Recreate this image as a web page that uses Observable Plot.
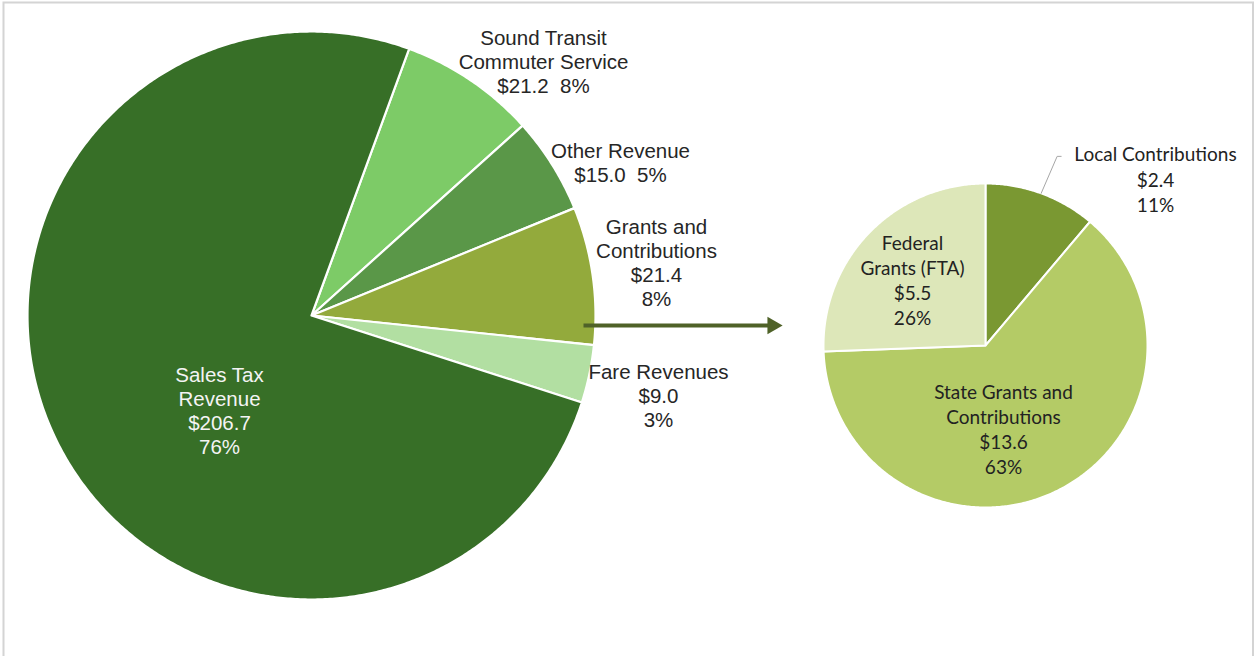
<!DOCTYPE html>
<html><head><meta charset="utf-8">
<script src="https://cdn.jsdelivr.net/npm/d3@7"></script>
<script src="https://cdn.jsdelivr.net/npm/@observablehq/plot@0.6"></script>
<style>body{margin:0;background:#fff;} svg{display:block;}</style>
</head><body><div id="chart"></div>
<script>
// ---------- data ----------
const mainCategories = ["Sound Transit\nCommuter Service", "Other Revenue", "Grants and\nContributions", "Fare Revenues", "Sales Tax\nRevenue"];
const mainValues = [21.2, 15.0, 21.4, 9.0, 206.7];
const mainColors = ["#7dcb67", "#5a9748", "#93aa3c", "#b2dfa2", "#376f27"];
const subCategories = ["Local Contributions", "State Grants and\nContributions", "Federal\nGrants (FTA)"];
const subValues = [2.4, 13.6, 5.5];
const subColors = ["#7a9832", "#b4cb66", "#dde7b9"];

// ---------- layout ----------
const W = 1254, H = 656;
const mainPie = {cx: 311, cy: 315, r: 284, start: 20.1};
const subPie = {cx: 985, cy: 345, r: 162, start: 0};
const mainLabelLayout = [
  {x: 543, y: 61, inline: true, fill: "#262626"},
  {x: 620, y: 162, inline: true, fill: "#262626"},
  {x: 656, y: 262, inline: false, fill: "#262626"},
  {x: 658, y: 395, inline: false, fill: "#262626"},
  {x: 219, y: 410, inline: false, fill: "#f4f4f4"}
];
const subLabelLayout = [
  {x: 1155, y: 178},
  {x: 1003, y: 428},
  {x: 912, y: 279}
];

function slicePolys(vals, colors, pie, group) {
  const s = pie.start * Math.PI / 180;
  const arcs = d3.pie().sort(null).value(d => d).startAngle(s).endAngle(s + 2 * Math.PI)(vals);
  const pts = [];
  arcs.forEach((a, i) => {
    const key = group + i;
    const n = Math.max(2, Math.ceil((a.endAngle - a.startAngle) / (Math.PI / 360)));
    pts.push({k: key, x: pie.cx, y: pie.cy, color: colors[i]});
    for (let j = 0; j <= n; j++) {
      const t = a.startAngle + (a.endAngle - a.startAngle) * j / n;
      pts.push({k: key, x: pie.cx + pie.r * Math.sin(t), y: pie.cy - pie.r * Math.cos(t), color: colors[i]});
    }
    pts.push({k: key, x: pie.cx, y: pie.cy, color: colors[i]});
  });
  return {pts, arcs};
}

const main = slicePolys(mainValues, mainColors, mainPie, "m");
const sub = slicePolys(subValues, subColors, subPie, "s");
const pct = d3.format(".0%");
const mainTotal = d3.sum(mainValues), subTotal = d3.sum(subValues);

const mainLabels = mainCategories.map((c, i) => ({
  x: mainLabelLayout[i].x, y: mainLabelLayout[i].y, fill: mainLabelLayout[i].fill,
  text: c + "\n$" + mainValues[i].toFixed(1) + (mainLabelLayout[i].inline ? "\u00a0\u00a0" : "\n") + pct(mainValues[i] / mainTotal)
}));
const subLabels = subCategories.map((c, i) => ({
  x: subLabelLayout[i].x, y: subLabelLayout[i].y,
  text: c + "\n$" + subValues[i].toFixed(1) + "\n" + pct(subValues[i] / subTotal)
}));

// leader line for the small "Local Contributions" slice
const la = sub.arcs[0];
const lm = (la.startAngle + la.endAngle) / 2;
const lx = subPie.cx + subPie.r * Math.sin(lm), ly = subPie.cy - subPie.r * Math.cos(lm);
const leader = [{x: lx, y: ly}, {x: lx + 16, y: ly - 37}, {x: lx + 20, y: ly - 37}];

// connector arrow between pies
const arrowY = 325;
const arrowX1 = mainPie.cx + mainPie.r - 12;
const arrowTip = subPie.cx - subPie.r - 41;

const chart = Plot.plot({
  width: W, height: H, margin: 0,
  x: {domain: [0, W], range: [0, W], axis: null},
  y: {domain: [0, H], range: [0, H], axis: null},
  color: {type: "identity"},
  style: {background: "#fff"},
  marks: [
    Plot.frame({stroke: "#d4d4d4", strokeWidth: 2, insetLeft: 3, insetTop: 2, insetRight: 1.5, insetBottom: -6}),
    Plot.line(main.pts, {x: "x", y: "y", z: "k", fill: "color", stroke: "white", strokeWidth: 2.2, strokeLinejoin: "round"}),
    Plot.line(sub.pts, {x: "x", y: "y", z: "k", fill: "color", stroke: "white", strokeWidth: 2, strokeLinejoin: "round"}),
    Plot.line(leader, {x: "x", y: "y", stroke: "#a6a6a6", strokeWidth: 1}),
    Plot.link([0], {x1: arrowX1, y1: arrowY, x2: arrowTip - 12, y2: arrowY, stroke: "#4f6228", strokeWidth: 4}),
    Plot.dot([0], {x: arrowTip - 10, y: arrowY, symbol: "triangle", rotate: 90, r: 6.5, fill: "#4f6228", stroke: "none"}),
    Plot.text(mainLabels, {x: "x", y: "y", text: "text", fill: "fill", fontSize: 20.5, lineHeight: 1.17, fontFamily: "Liberation Sans, Arial, sans-serif"}),
    Plot.text(subLabels, {x: "x", y: "y", text: "text", fill: "#222", fontSize: 19, lineHeight: 1.33, fontFamily: "Lato, Calibri, sans-serif"})
  ]
});
document.getElementById("chart").append(chart);
</script>
</body></html>
